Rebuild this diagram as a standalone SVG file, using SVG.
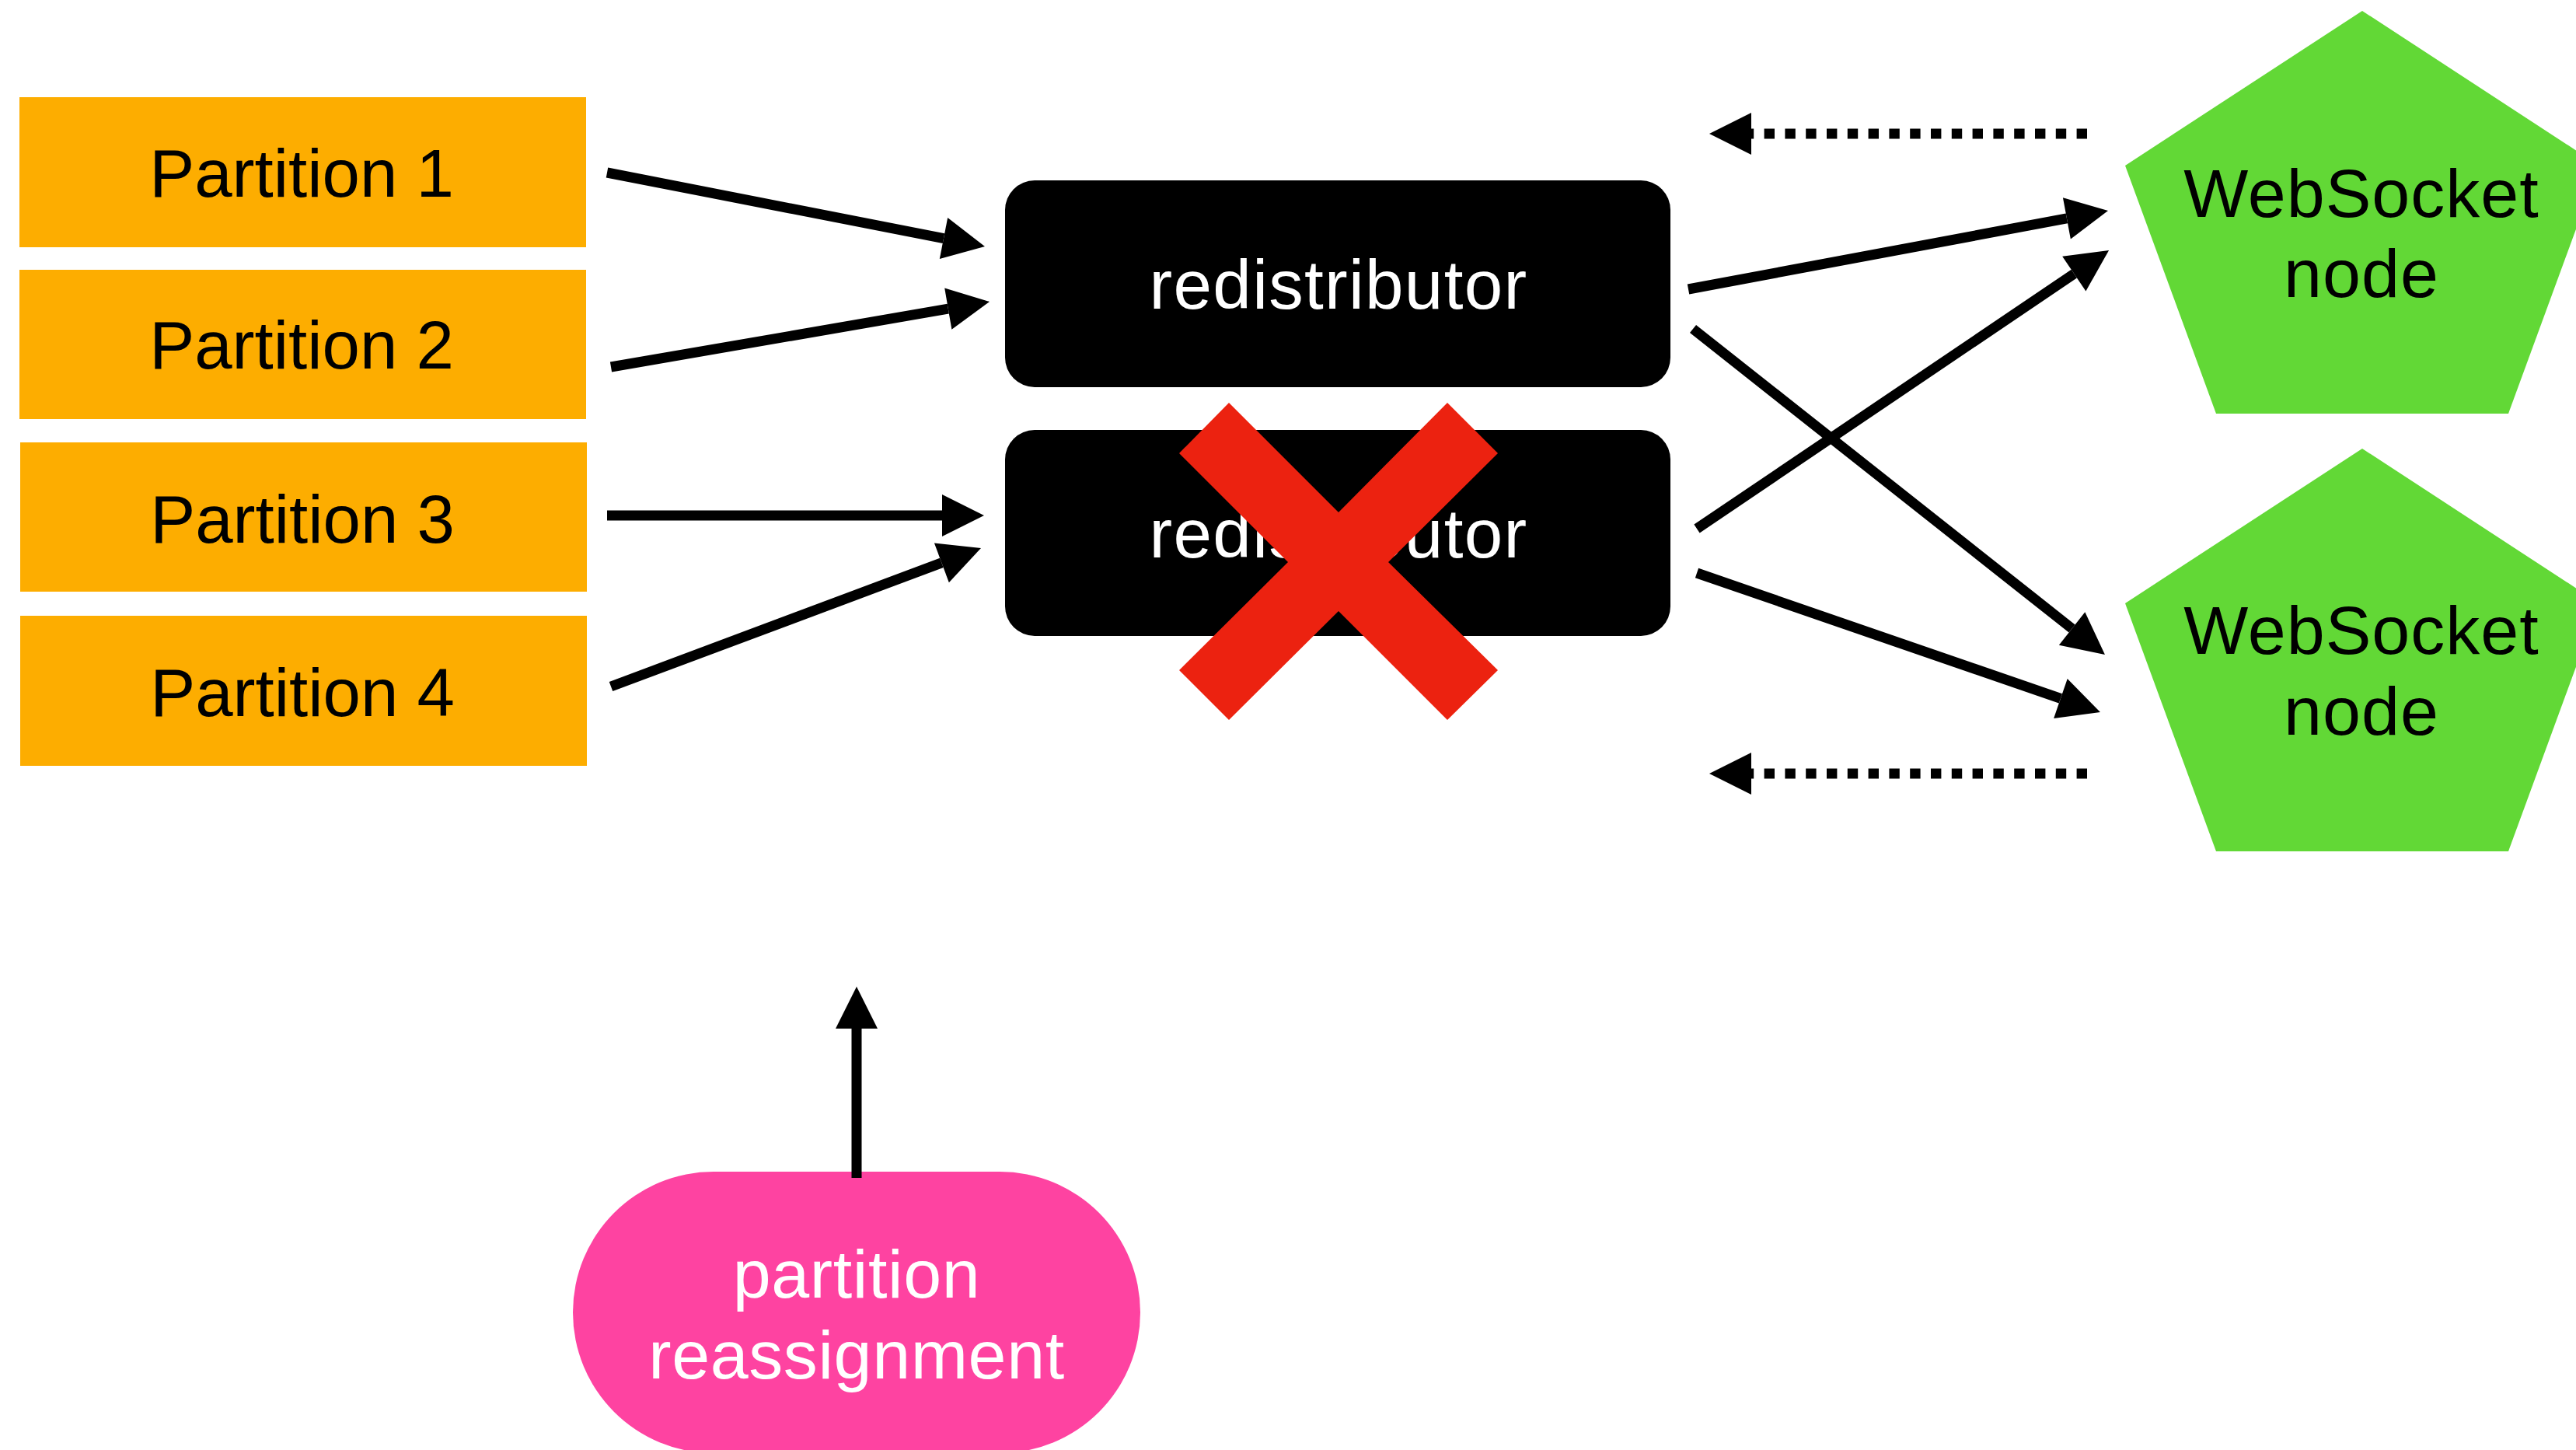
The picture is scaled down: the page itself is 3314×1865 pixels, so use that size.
<svg xmlns="http://www.w3.org/2000/svg" width="3314" height="1865" viewBox="0 0 3314 1865">
  <style>
    .label { font-family: "Liberation Sans", Arial, Helvetica, sans-serif; font-size: 87px; text-anchor: middle; }
    .partition rect { fill: #FDAD00; }
    .partition text { fill: #000000; }
    .redist rect { fill: #000000; }
    .redist text { fill: #FFFFFF; font-size: 89px; letter-spacing: 1.3px; }
    .ws polygon { fill: #62D836; }
    .ws text { fill: #000000; font-size: 88px; letter-spacing: 1px; }
    .trigger rect { fill: #FE43A1; }
    .trigger text { fill: #FFFFFF; font-size: 88px; letter-spacing: 0.6px; }
    .edge { stroke: #000000; stroke-width: 13; fill: none; marker-end: url(#head); }
    .dotted { stroke-dasharray: 13.4 13.4; }
  </style>
  <defs>
    <marker id="head" markerUnits="userSpaceOnUse" markerWidth="54" markerHeight="54" refX="0" refY="27" orient="auto" overflow="visible">
      <path d="M0,0 L54,27 L0,54 Z" fill="#000000"/>
    </marker>
  </defs>

  <rect x="0" y="0" width="3314" height="1865" fill="#FFFFFF"/>

  <!-- Kafka partitions -->
  <g id="partition-1" class="partition">
    <rect x="25" y="125" width="729" height="193"/>
    <text class="label" x="388" y="253">Partition 1</text>
  </g>
  <g id="partition-2" class="partition">
    <rect x="25" y="347" width="729" height="192"/>
    <text class="label" x="388" y="474">Partition 2</text>
  </g>
  <g id="partition-3" class="partition">
    <rect x="26" y="569" width="729" height="192"/>
    <text class="label" x="389" y="698">Partition 3</text>
  </g>
  <g id="partition-4" class="partition">
    <rect x="26" y="792" width="729" height="193"/>
    <text class="label" x="389" y="921">Partition 4</text>
  </g>

  <!-- Redistributor instances -->
  <g id="redistributor-1" class="redist">
    <rect x="1293" y="232" width="856" height="266" rx="38" ry="38"/>
    <text class="label" x="1722" y="397">redistributor</text>
  </g>
  <g id="redistributor-2" class="redist">
    <rect x="1293" y="553" width="856" height="265" rx="38" ry="38"/>
    <text class="label" x="1722" y="717">redistributor</text>
  </g>

  <!-- Failure mark over the second redistributor -->
  <g id="failure-mark">
    <polygon fill="#EC2210" points="1581,518 1722,659 1862,518 1927,583 1786,723 1927,862 1862,926 1722,786 1581,926 1517,862 1657,723 1517,583"/>
  </g>

  <!-- WebSocket nodes -->
  <g id="websocket-node-1" class="ws">
    <polygon points="3039,14 3344,213 3227,532 2851,532 2734,213"/>
    <text class="label" x="3038" y="279">WebSocket</text>
    <text class="label" x="3038" y="382">node</text>
  </g>
  <g id="websocket-node-2" class="ws">
    <polygon points="3039,577 3344,776 3227,1095 2851,1095 2734,776"/>
    <text class="label" x="3038" y="841">WebSocket</text>
    <text class="label" x="3038" y="945">node</text>
  </g>

  <!-- Partition reassignment trigger -->
  <g id="partition-reassignment" class="trigger">
    <rect x="737" y="1507" width="730" height="362" rx="181" ry="181"/>
    <text class="label" x="1102" y="1669">partition</text>
    <text class="label" x="1102" y="1773">reassignment</text>
  </g>

  <!-- Connectors -->
  <g id="connectors">
    <line class="edge" x1="781" y1="222" x2="1214" y2="306.6"/>
    <line class="edge" x1="786" y1="472" x2="1219.8" y2="397.2"/>
    <line class="edge" x1="781" y1="663" x2="1212" y2="663"/>
    <line class="edge" x1="786" y1="883" x2="1211.4" y2="723.9"/>

    <line class="edge" x1="2172" y1="372" x2="2658.9" y2="280.9"/>
    <line class="edge" x1="2178" y1="423" x2="2665.6" y2="808.5"/>
    <line class="edge" x1="2183" y1="680" x2="2668.3" y2="352.2"/>
    <line class="edge" x1="2183" y1="737" x2="2650.9" y2="898.4"/>

    <line class="edge dotted" x1="2685" y1="172" x2="2253" y2="172"/>
    <line class="edge dotted" x1="2685" y1="995" x2="2253" y2="995"/>

    <line class="edge" x1="1102" y1="1515" x2="1102" y2="1323"/>
  </g>
</svg>
